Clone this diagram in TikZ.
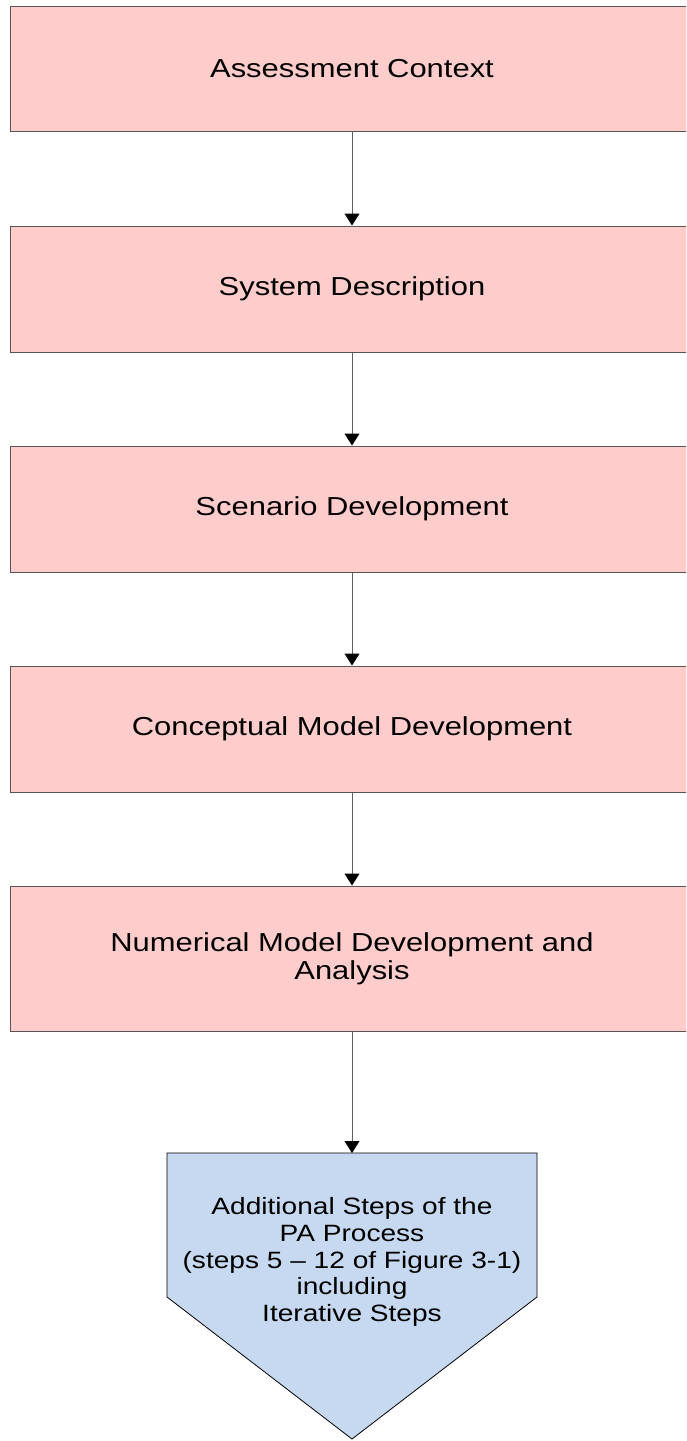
\documentclass[tikz,border=0pt]{standalone}
\usepackage{fontspec}
\setmainfont{Liberation Sans}[FakeStretch=1.19]
\usetikzlibrary{arrows.meta}
\definecolor{pinkfill}{RGB}{255,204,204}
\definecolor{bluefill}{RGB}{198,217,240}
\definecolor{edgegray}{RGB}{85,85,85}
\definecolor{linegray}{RGB}{96,96,96}
\tikzset{
  pinkbox/.style={draw=edgegray, line width=1pt, fill=pinkfill, minimum width=683pt,
    inner sep=0pt, align=center, font=\fontsize{26}{27.7}\selectfont},
  conn/.style={draw=linegray, line width=1pt,
    -{Triangle[width=15pt,length=12pt,color=black]}},
  pentatext/.style={align=center, inner sep=0pt, font=\fontsize{23.6}{26.7}\selectfont}
}
\begin{document}
\begin{tikzpicture}[x=1pt,y=-1pt]
\useasboundingbox (0,0) rectangle (686,1441);
\clip (0,0) rectangle (686,1441);
\fill[white] (0,0) rectangle (686,1441);
\node[pinkbox, minimum height=125pt] (b1) at (352,68.5) {Assessment Context};
\node[pinkbox, minimum height=126pt] (b2) at (352,289) {System Description};
\node[pinkbox, minimum height=126pt] (b3) at (352,509) {Scenario Development};
\node[pinkbox, minimum height=126pt] (b4) at (352,729) {Conceptual Model Development};
\node[pinkbox, minimum height=145pt] (b5) at (352,958.5) {Numerical Model Development and\\Analysis};
\draw[draw=black, line width=0.8pt, fill=bluefill]
  (167,1153) -- (537,1153) -- (537,1297) -- (352,1439) -- (167,1297) -- cycle;
\coordinate (ptop) at (352,1153);
\node[pentatext] (b6) at (352,1262) {Additional Steps of the\\PA Process\\(steps 5 -- 12 of Figure 3-1)\\including\\Iterative Steps};
\draw[conn] (b1.south) -- (b2.north);
\draw[conn] (b2.south) -- (b3.north);
\draw[conn] (b3.south) -- (b4.north);
\draw[conn] (b4.south) -- (b5.north);
\draw[conn] (b5.south) -- (ptop);
\end{tikzpicture}
\end{document}
